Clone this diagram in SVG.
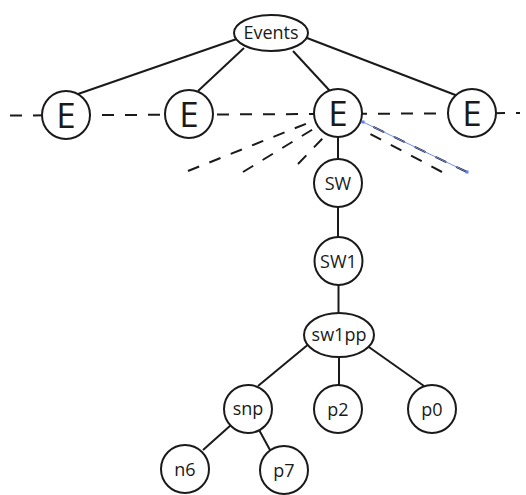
<svg xmlns="http://www.w3.org/2000/svg" width="526" height="495" viewBox="0 0 526 495">
  <style>
    .edge { stroke: #1a1a1a; stroke-width: 2; fill: none; stroke-linecap: butt; }
    .dash { stroke: #1a1a1a; stroke-width: 2; fill: none; stroke-dasharray: 12 11; }
    .sel { stroke: #6f8ff0; stroke-width: 1; fill: none; }
    .handle { fill: #5a80f5; }
    .node { fill: #ffffff; stroke: #1a1a1a; stroke-width: 2; }
    .lbl { font-family: "Open Sans", "Liberation Sans", sans-serif; font-size: 18px; fill: #1a1a1a; text-anchor: middle; }
    .big { font-family: "Open Sans", "Liberation Sans", sans-serif; font-size: 35px; fill: #1a1a1a; text-anchor: middle; }
  </style>

  <g id="connectors">
    <!-- horizontal dashed baseline through the E row -->
    <line class="dash" x1="10" y1="115.5" x2="520" y2="113"/>
    <!-- dashed rays fanning out from the third E (drawn from the outer end) -->
    <line class="dash" x1="188" y1="171" x2="313" y2="121"/>
    <line class="dash" x1="243" y1="172" x2="315" y2="128"/>
    <line class="dash" x1="298" y1="164" x2="323" y2="138"/>
    <line class="dash" x1="442" y1="172" x2="361" y2="129"/>
    <line class="dash" x1="467" y1="172" x2="363" y2="122"/>
    <!-- selected ray overlay -->
    <line class="sel" x1="363" y1="122" x2="467" y2="172"/>
    <rect class="handle" x="361.5" y="120.5" width="3" height="3"/>
    <rect class="handle" x="465.5" y="170.5" width="3" height="3"/>

    <!-- tree edges -->
    <line class="edge" x1="236" y1="39.3" x2="78" y2="94"/>
    <line class="edge" x1="244" y1="48" x2="198" y2="91"/>
    <line class="edge" x1="293" y1="51" x2="330" y2="91"/>
    <line class="edge" x1="307" y1="38" x2="458" y2="96"/>
    <line class="edge" x1="338" y1="130" x2="338" y2="165"/>
    <line class="edge" x1="338" y1="200" x2="338" y2="243"/>
    <line class="edge" x1="338.5" y1="278" x2="338.5" y2="318"/>
    <line class="edge" x1="310" y1="343" x2="258" y2="386"/>
    <line class="edge" x1="339" y1="352" x2="339" y2="392"/>
    <line class="edge" x1="366" y1="345" x2="424" y2="386"/>
    <line class="edge" x1="231" y1="425" x2="203" y2="450"/>
    <line class="edge" x1="258" y1="428" x2="270" y2="450"/>
  </g>

  <g id="events">
    <ellipse class="node" cx="271" cy="33" rx="37" ry="18"/>
    <text class="lbl" x="271" y="39">Events</text>
  </g>
  <g id="e1">
    <circle class="node" cx="66" cy="115" r="24"/>
    <text class="big" x="66" y="127.5">E</text>
  </g>
  <g id="e2">
    <circle class="node" cx="189" cy="114" r="24"/>
    <text class="big" x="189" y="126.5">E</text>
  </g>
  <g id="e3">
    <circle class="node" cx="338" cy="113" r="24"/>
    <text class="big" x="338" y="125.5">E</text>
  </g>
  <g id="e4">
    <circle class="node" cx="472" cy="113" r="24"/>
    <text class="big" x="472" y="125.5">E</text>
  </g>
  <g id="sw">
    <circle class="node" cx="338" cy="183" r="24"/>
    <text class="lbl" x="338" y="189.5">SW</text>
  </g>
  <g id="sw1">
    <circle class="node" cx="338.5" cy="261" r="24"/>
    <text class="lbl" x="338.5" y="267.5">SW1</text>
  </g>
  <g id="sw1pp">
    <ellipse class="node" cx="339" cy="335" rx="35" ry="22"/>
    <text class="lbl" x="339" y="341">sw1pp</text>
  </g>
  <g id="snp">
    <circle class="node" cx="248" cy="409" r="24"/>
    <text class="lbl" x="248" y="415">snp</text>
  </g>
  <g id="p2">
    <circle class="node" cx="338" cy="409" r="24"/>
    <text class="lbl" x="338" y="415.5">p2</text>
  </g>
  <g id="p0">
    <circle class="node" cx="432" cy="409" r="24"/>
    <text class="lbl" x="432" y="415.5">p0</text>
  </g>
  <g id="n6">
    <circle class="node" cx="185" cy="469" r="24"/>
    <text class="lbl" x="185" y="475.5">n6</text>
  </g>
  <g id="p7">
    <circle class="node" cx="284" cy="470" r="24"/>
    <text class="lbl" x="284" y="476.5">p7</text>
  </g>
</svg>
